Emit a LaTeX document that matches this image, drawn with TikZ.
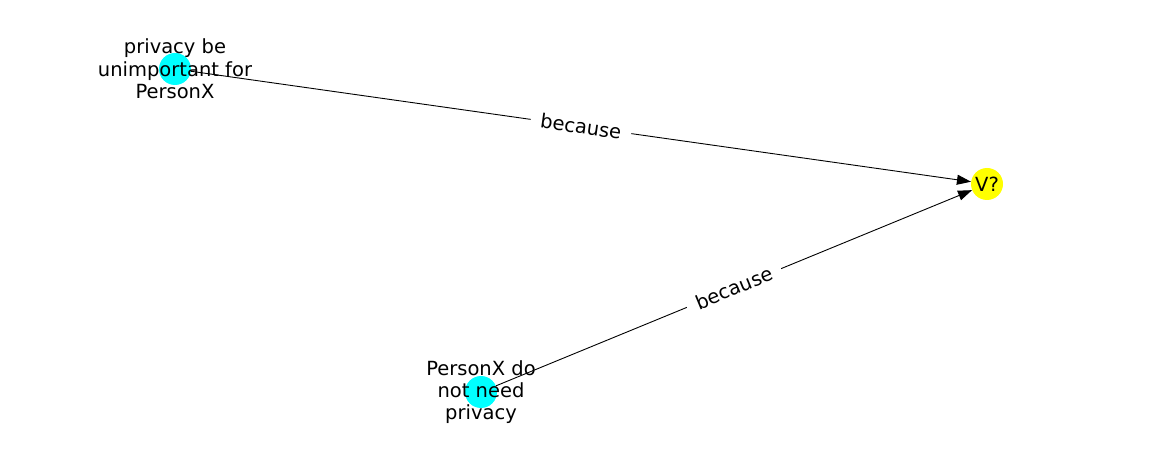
\documentclass[tikz,border=0pt]{standalone}
\usepackage{fontspec}
\setmainfont{DejaVu Sans}
\usepackage{xcolor}
\usepackage{tikz}
\usetikzlibrary{arrows.meta}
\definecolor{nodecyan}{RGB}{0, 255, 255}
\definecolor{nodeyellow}{RGB}{255, 255, 0}

\begin{document}
\begin{tikzpicture}[x=1pt, y=-1pt,
    vertex/.style={circle, inner sep=0pt, minimum size=32pt},
    vlabel/.style={align=center, font=\fontsize{19.5}{22.3}\selectfont, inner sep=0pt},
    rel/.style={-{Triangle[length=14pt, width=10pt]}, line width=0.9pt},
    rellabel/.style={midway, sloped, fill=white, inner xsep=10pt, inner ysep=4pt, font=\fontsize{19.5}{20}\selectfont}]
                % Frame
                \useasboundingbox (0,0) rectangle (1162,462);
                
                % Vertices
                \node[vertex, fill=nodecyan] (privacy) at (175, 69) {};
                \node[vertex, fill=nodecyan] (need) at (481, 392) {};
                \node[vertex, fill=nodeyellow] (v) at (987, 184) {};
                
                % Edges
                \draw[rel] (privacy) -- (v) node[rellabel] {because};
                \draw[rel] (need) -- (v) node[rellabel] {because};
                
                % Labels
                \node[vlabel] (privacytext) at (privacy) {privacy be\\unimportant for\\PersonX};
                \node[vlabel] (needtext) at (need) {PersonX do\\not need\\privacy};
                \node[vlabel] (vtext) at (v) {V?};
            \end{tikzpicture}
\end{document}
